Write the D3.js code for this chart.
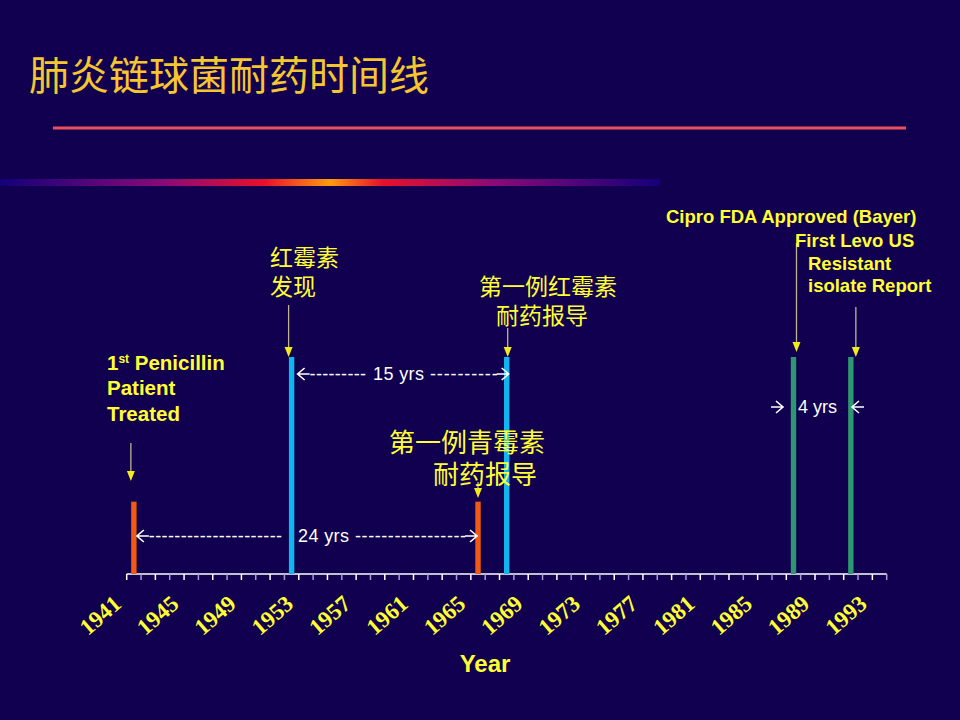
<!DOCTYPE html>
<html>
<head>
<meta charset="utf-8">
<script src="https://cdn.jsdelivr.net/npm/d3@7"></script>
<style>
  body { margin: 0; background: #10004f; }
  svg { display: block; }
</style>
</head>
<body>
<div id="chart"></div>
<script>
const width = 960;
const height = 720;

// data
const years = d3.range(1941, 1994);            // one band per year
const labelYears = d3.range(1941, 1994, 4);    // every 4th year labelled
const eventYears = [1941, 1952, 1965, 1967, 1987, 1991];
const eventLevels = [1, 3, 1, 3, 3, 3];        // bar heights (relative)
const eventKinds = ["pen", "ery", "pen", "ery", "fq", "fq"];
const gapLabels = ["24 yrs", "15 yrs", "4 yrs"];

const kindColor = { pen: "#f05a12", ery: "#12b6ee", fq: "#2e9670" };
const yellow = "#ffff33";

const svg = d3.select("#chart")
    .append("svg")
    .attr("width", width)
    .attr("height", height);

const defs = svg.append("defs");
const grad = defs.append("linearGradient").attr("id", "band");
[["0%", "#14007a"], ["25%", "#8a0a78"], ["40%", "#e8102a"], ["50%", "#ff9a10"],
 ["58%", "#e8102a"], ["75%", "#8a0a78"], ["100%", "#14007a"]]
    .forEach(s => grad.append("stop").attr("offset", s[0]).attr("stop-color", s[1]));

// title and decorative lines
svg.append("text")
    .attr("x", 29).attr("y", 90)
    .attr("fill", "#f5c630")
    .style("font-family", "'Noto Sans CJK SC'")
    .style("font-size", "40px")
    .text("肺炎链球菌耐药时间线");

svg.append("line")
    .attr("x1", 53).attr("x2", 906)
    .attr("y1", 128).attr("y2", 128)
    .attr("stroke", "#e8505a").attr("stroke-width", 3);

svg.append("rect")
    .attr("x", 0).attr("y", 179)
    .attr("width", 660).attr("height", 7)
    .attr("fill", "url(#band)");

// scales
const x = d3.scaleBand().domain(years).range([126.7, 886.7]);
const y = d3.scaleLinear().domain([0, 3]).range([574, 357]);
const cx = yr => x(yr) + x.bandwidth() / 2;

// axis: line, a tick at every band edge, alternating colours
const axisY = y(0);
svg.append("line")
    .attr("x1", x.range()[0]).attr("x2", x.range()[1])
    .attr("y1", axisY).attr("y2", axisY)
    .attr("stroke", "#ffffff").attr("stroke-width", 1.5);

const edges = years.map(yr => x(yr)).concat([x.range()[1]]);
svg.selectAll(".tick")
    .data(edges)
    .enter().append("line")
    .attr("class", "tick")
    .attr("x1", d => d).attr("x2", d => d)
    .attr("y1", axisY).attr("y2", axisY + 6)
    .attr("stroke", (d, i) => i % 2 ? "#a69ad8" : "#ffffff")
    .attr("stroke-width", 1.5);

svg.selectAll(".ylabel")
    .data(labelYears)
    .enter().append("text")
    .attr("class", "ylabel")
    .attr("transform", d => `translate(${x(d) - 4},${axisY + 32}) rotate(-41)`)
    .attr("text-anchor", "end")
    .attr("fill", yellow)
    .style("font-family", "'Liberation Serif'")
    .style("font-weight", "bold")
    .style("font-size", "23px")
    .text(d => d);

svg.append("text")
    .attr("x", 485).attr("y", 672)
    .attr("text-anchor", "middle")
    .attr("fill", yellow)
    .style("font-family", "'Liberation Sans', Arial")
    .style("font-weight", "bold")
    .style("font-size", "24px")
    .text("Year");

// event bars
svg.selectAll(".bar")
    .data(eventYears)
    .enter().append("rect")
    .attr("class", "bar")
    .attr("x", d => cx(d) - 2.7)
    .attr("width", 5.4)
    .attr("y", (d, i) => y(eventLevels[i]))
    .attr("height", (d, i) => axisY - y(eventLevels[i]))
    .attr("fill", (d, i) => kindColor[eventKinds[i]]);

// callout arrows: grey shaft, yellow head
function arrow(xp, y1, y2) {
    svg.append("line")
        .attr("x1", xp).attr("x2", xp)
        .attr("y1", y1).attr("y2", y2 - 8)
        .attr("stroke", "#bdb592").attr("stroke-width", 1.3);
    svg.append("path")
        .attr("d", `M${xp - 4},${y2 - 10} L${xp + 4},${y2 - 10} L${xp},${y2} Z`)
        .attr("fill", "#f2ea1a");
}
arrow(cx(1941) - 3, 443, 481);
arrow(cx(1952) - 3, 305, 357);
arrow(cx(1965), 482, 498);
arrow(cx(1967) + 1, 328, 357);
arrow(cx(1987) + 3, 243, 352);
arrow(cx(1991) + 5, 307, 357);

// annotation helpers
function label(lines, xp, yp, size, bold, lh, font) {
    const t = svg.append("text")
        .attr("fill", yellow)
        .style("font-family", font)
        .style("font-weight", bold ? "bold" : "normal")
        .style("font-size", size + "px");
    lines.forEach((s, i) => {
        t.append("tspan")
            .attr("x", xp + (s.dx || 0))
            .attr("y", yp + i * lh)
            .text(s.t);
    });
    return t;
}
const cjk = "'Noto Sans CJK SC'";
const sans = "'Liberation Sans', Arial";

// 1st Penicillin Patient Treated
const pen = svg.append("text")
    .attr("fill", yellow)
    .style("font-family", sans)
    .style("font-weight", "bold")
    .style("font-size", "20.5px");
const l1 = pen.append("tspan").attr("x", 107).attr("y", 370);
l1.append("tspan").text("1");
l1.append("tspan").attr("dy", -7).style("font-size", "12px").text("st");
l1.append("tspan").attr("dy", 7).text(" Penicillin");
pen.append("tspan").attr("x", 107).attr("y", 395).text("Patient");
pen.append("tspan").attr("x", 107).attr("y", 421).text("Treated");

label([{ t: "红霉素" }, { t: "发现" }], 270, 266, 23, false, 29, cjk);
label([{ t: "第一例红霉素" }, { t: "耐药报导", dx: 17 }], 479, 295, 23, false, 29, cjk);
label([{ t: "第一例青霉素" }, { t: "耐药报导", dx: 44 }], 389, 452, 26, false, 32, cjk);

label([{ t: "Cipro FDA Approved (Bayer)" }], 666, 223, 18.5, true, 0, sans);
label([{ t: "First Levo US" }, { t: "Resistant", dx: 13 }, { t: "isolate Report", dx: 13 }],
    795, 247, 18.5, true, 22.5, sans);

// gap annotations (white): arrow glyphs drawn as paths, dashes and label as text
function head(tipX, yc, dir) {
    // dir = -1 points left, +1 points right
    svg.append("path")
        .attr("d", `M${tipX - dir * 7},${yc - 6} L${tipX},${yc} L${tipX - dir * 7},${yc + 6}` +
            ` M${tipX},${yc} L${tipX - dir * 12},${yc}`)
        .attr("fill", "none")
        .attr("stroke", "#ffffff")
        .attr("stroke-width", 1.6);
}
function gapText(txt, x0, x1, yb) {
    svg.append("text")
        .attr("x", x0).attr("y", yb)
        .attr("textLength", x1 - x0)
        .attr("lengthAdjust", "spacing")
        .attr("fill", "#ffffff")
        .style("font-family", sans)
        .style("font-size", "18px")
        .text(txt);
}
function gap(lbl, left, right, yc, inward) {
    if (inward) {
        head(left + 12, yc, 1);
        head(right - 12, yc, -1);
        svg.append("text")
            .attr("x", (left + right) / 2).attr("y", yc + 6)
            .attr("text-anchor", "middle")
            .attr("fill", "#ffffff")
            .style("font-family", sans)
            .style("font-size", "18px")
            .text(lbl);
        return;
    }
    head(left, yc, -1);
    head(right, yc, 1);
}
// 24 yrs: 1941 -> 1965
gap(gapLabels[0], cx(1941) + 3, cx(1965) - 1, 536);
gapText("---------------------", cx(1941) + 15, 282, 542);
gapText(gapLabels[0], 298, 349, 542);
gapText("-----------------", 355, cx(1965) - 12, 542);
// 15 yrs: 1952 -> 1967
gap(gapLabels[1], cx(1952) + 6, cx(1967) + 2, 374);
gapText("---------", cx(1952) + 18, 366, 380);
gapText(gapLabels[1], 373, 424, 380);
gapText("----------", 430, cx(1967) - 9, 380);
// 4 yrs: 1987 -> 1991, arrows pointing in
gap(gapLabels[2], 771, 864, 407, true);
</script>
</body>
</html>
